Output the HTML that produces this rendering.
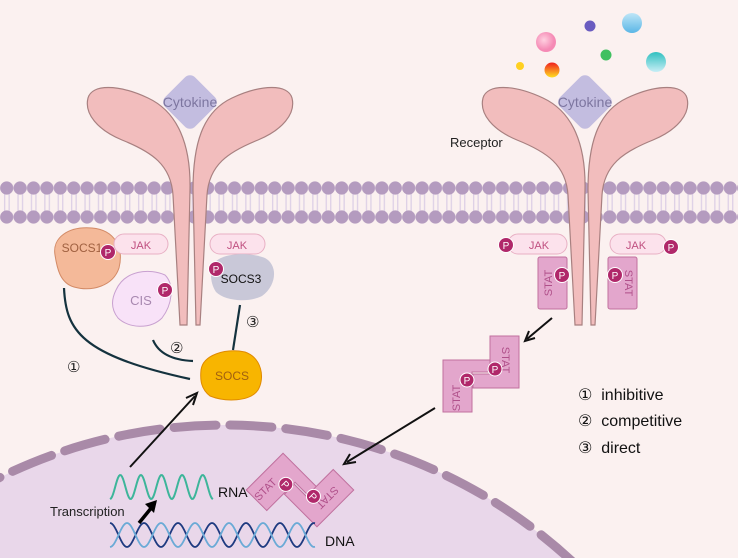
<!DOCTYPE html>
<html><head><meta charset="utf-8"><style>
html,body{margin:0;padding:0;background:#fbf1f0;overflow:hidden;width:738px;height:558px;}
svg{display:block;font-family:"Liberation Sans","DejaVu Sans",sans-serif;}
</style></head><body>
<svg width="738" height="558" viewBox="0 0 738 558" xmlns="http://www.w3.org/2000/svg" overflow="hidden">
<defs>
<clipPath id="frame"><rect x="0" y="0" width="738" height="558"/></clipPath>
<pattern id="mem" x="0" y="0" width="13.4" height="558" patternUnits="userSpaceOnUse">
<rect x="4" y="193" width="1.3" height="20" fill="#ddd0e6"/>
<rect x="8.5" y="193" width="1.3" height="20" fill="#ddd0e6"/>
<circle cx="6.7" cy="188" r="6.6" fill="#b49bbf"/>
<circle cx="6.7" cy="217" r="6.6" fill="#b49bbf"/>
</pattern>
<g id="dimer">
<path d="M0,24 H50 V36 H29 V76 H0 Z" fill="#e3a6cc" stroke="#c0709e" stroke-width="1"/>
<path d="M47,0 H76 V52 H30 V38 H47 Z" fill="#e3a6cc" stroke="#c0709e" stroke-width="1"/>
<text x="14" y="62" transform="rotate(-90 14 62)" font-size="11" fill="#b0508a" text-anchor="middle" dominant-baseline="middle">STAT</text>
<text x="62" y="24" transform="rotate(90 62 24)" font-size="11" fill="#b0508a" text-anchor="middle" dominant-baseline="middle">STAT</text>
<circle cx="24" cy="44" r="7" fill="#b0286a" stroke="#fff" stroke-width="1"/>
<text x="24" y="48" font-size="10" fill="#fff" text-anchor="middle">P</text>
<circle cx="52" cy="33" r="7" fill="#b0286a" stroke="#fff" stroke-width="1"/>
<text x="52" y="37" font-size="10" fill="#fff" text-anchor="middle">P</text>
</g>
<g id="P"><circle r="7.5" fill="#b0286a" stroke="#fff" stroke-width="1"/><text y="4" font-size="10" fill="#fff" text-anchor="middle">P</text></g>
<radialGradient id="g1" cx="0.4" cy="0.4"><stop offset="0" stop-color="#ffd0e0"/><stop offset="1" stop-color="#f58ab5"/></radialGradient>
<linearGradient id="g2" x1="0" y1="0" x2="0" y2="1"><stop offset="0" stop-color="#f02020"/><stop offset="1" stop-color="#ffe020"/></linearGradient>
<linearGradient id="g3" x1="0" y1="0" x2="0" y2="1"><stop offset="0" stop-color="#bfe6f7"/><stop offset="1" stop-color="#5bb6e6"/></linearGradient>
<linearGradient id="g4" x1="0" y1="0" x2="0" y2="1"><stop offset="0" stop-color="#30c0c0"/><stop offset="1" stop-color="#c8eef6"/></linearGradient>
</defs>
<g clip-path="url(#frame)">
<!-- nucleus -->
<circle cx="225" cy="935" r="510" fill="#e9d7ea"/>
<circle cx="225" cy="935" r="510" fill="none" stroke="#a98aa8" stroke-width="9" stroke-dasharray="42 14" stroke-linecap="round"/>

<!-- membrane -->
<rect x="0" y="180" width="738" height="45" fill="url(#mem)"/>

<!-- receptors -->
<g id="rec">
<path d="M180,325 L173,195 C171,165 152,152 122,140 C98,130 84,114 88,98 C92,84 118,84 148,98 C178,112 191,145 190,190 L187,325 Z" fill="#f2bdbd" stroke="#a88080" stroke-width="1.2"/>
<path d="M200,325 L207,195 C209,165 228,152 258,140 C282,130 296,114 292,98 C288,84 262,84 232,98 C202,112 193,145 193,190 L196,325 Z" fill="#f2bdbd" stroke="#a88080" stroke-width="1.2"/>
<rect x="169" y="81" width="42" height="42" rx="7" transform="rotate(45 190 102)" fill="#c3bde0"/>
<text x="190" y="107" font-size="14" fill="#7d76a0" text-anchor="middle">Cytokine</text>
</g>
<use href="#rec" transform="translate(395,0)"/>

<!-- bubbles -->
<circle cx="546" cy="42" r="10" fill="url(#g1)"/>
<circle cx="590" cy="26" r="5.5" fill="#6a5cc0"/>
<circle cx="632" cy="23" r="10" fill="url(#g3)"/>
<circle cx="606" cy="55" r="5.5" fill="#40c060"/>
<circle cx="656" cy="62" r="10" fill="url(#g4)"/>
<circle cx="520" cy="66" r="4" fill="#ffd020"/>
<circle cx="552" cy="70" r="7.5" fill="url(#g2)"/>
<text x="450" y="147" font-size="13" fill="#222">Receptor</text>

<!-- left side proteins -->
<path d="M55,255 C52,238 68,226 92,228 C115,230 124,248 119,268 C113,286 92,292 74,287 C60,283 57,268 55,255 Z" fill="#f4b999" stroke="#d38a66" stroke-width="1"/>
<text x="82" y="252" font-size="12" fill="#a06040" text-anchor="middle">SOCS1</text>
<use href="#P" x="108" y="252"/>
<rect x="114" y="234" width="54" height="20" rx="10" fill="#fce2ec" stroke="#e8b0c4"/>
<text x="141" y="249" font-size="11" fill="#c05080" text-anchor="middle">JAK</text>
<rect x="210" y="234" width="55" height="20" rx="10" fill="#fce2ec" stroke="#e8b0c4"/>
<text x="237" y="249" font-size="11" fill="#c05080" text-anchor="middle">JAK</text>
<path d="M116,290 C125,270 150,268 165,275 C175,285 172,305 162,318 C150,330 128,328 118,318 C110,308 112,298 116,290 Z" fill="#f8e2f8" stroke="#c8a0d0" stroke-width="1"/>
<text x="141" y="305" font-size="13" fill="#a888b0" text-anchor="middle">CIS</text>
<use href="#P" x="165" y="290"/>
<path d="M213,265 C220,252 250,252 265,258 C278,265 277,285 262,296 C248,303 225,301 216,292 C210,283 210,272 213,265 Z" fill="#c9c8d8"/>
<text x="241" y="283" font-size="12" fill="#111" text-anchor="middle">SOCS3</text>
<use href="#P" x="216" y="269"/>
<path d="M201,370 C203,355 225,348 245,352 C262,358 265,378 258,390 C250,402 225,402 210,396 C201,389 200,380 201,370 Z" fill="#f8b500" stroke="#e08a00" stroke-width="1"/>
<text x="232" y="380" font-size="12" fill="#a06010" text-anchor="middle">SOCS</text>

<g fill="none" stroke="#14323e" stroke-width="2.2">
<path d="M64,288 C66,330 80,355 190,379"/>
<path d="M153,340 C158,352 170,360 193,361"/>
<path d="M240,305 L233,350"/>
</g>
<g font-size="15" fill="#222">
<text x="67" y="372">①</text><text x="170" y="353">②</text><text x="246" y="327">③</text>
</g>

<!-- arrows -->
<g stroke="#111" stroke-width="2" fill="none">
<path d="M130,467 L195,396"/><path d="M186,398 L197,393 L193,405"/>
<path d="M552,318 L527,339"/><path d="M529,331 L525,341 L535,338"/>
<path d="M435,408 L347,462"/><path d="M350,454 L344,464 L356,462"/>
</g>

<!-- right side -->
<rect x="508" y="234" width="59" height="20" rx="10" fill="#fce2ec" stroke="#e8b0c4"/>
<text x="539" y="249" font-size="11" fill="#c05080" text-anchor="middle">JAK</text>
<rect x="610" y="234" width="56" height="20" rx="10" fill="#fce2ec" stroke="#e8b0c4"/>
<text x="636" y="249" font-size="11" fill="#c05080" text-anchor="middle">JAK</text>
<use href="#P" x="506" y="245"/><use href="#P" x="671" y="247"/>
<rect x="538" y="257" width="29" height="52" rx="2" fill="#e3a6cc" stroke="#c0709e"/>
<text x="549" y="283" transform="rotate(-90 549 283)" font-size="11" fill="#b0508a" text-anchor="middle" dominant-baseline="middle">STAT</text>
<use href="#P" x="562" y="275"/>
<rect x="608" y="257" width="29" height="52" rx="2" fill="#e3a6cc" stroke="#c0709e"/>
<text x="628" y="283" transform="rotate(90 628 283)" font-size="11" fill="#b0508a" text-anchor="middle" dominant-baseline="middle">STAT</text>
<use href="#P" x="615" y="275"/>

<use href="#dimer" x="443" y="336"/>
<g transform="translate(300,490) rotate(45) translate(-38,-38)"><use href="#dimer"/></g>

<!-- RNA / DNA -->
<path id="rna" d="" fill="none" stroke="#3db59a" stroke-width="2"/>
<path id="dna1" d="" fill="none" stroke="#1e3a80" stroke-width="1.8"/>
<path id="dna2" d="" fill="none" stroke="#6aaad6" stroke-width="1.8"/>
<text x="218" y="497" font-size="14" fill="#111">RNA</text>
<text x="325" y="546" font-size="14" fill="#111">DNA</text>
<text x="50" y="516" font-size="13" fill="#222">Transcription</text>
<path d="M139,523 L152,507" stroke="#000" stroke-width="3.5"/>
<path d="M145,504 L157,500 L154,513 Z" fill="#000"/>

<!-- legend -->
<g font-size="16" fill="#111">
<text x="578" y="400">①&#160; inhibitive</text>
<text x="578" y="426">②&#160; competitive</text>
<text x="578" y="453">③&#160; direct</text>
</g>
</g>
<script>
function w(x0,x1,yc,a,p,ph){var d='';for(var x=x0;x<=x1;x+=1){var y=yc-a*Math.cos((x-x0)/p*2*Math.PI+ph);d+=(x==x0?'M':'L')+x+','+y.toFixed(2);}return d;}
document.getElementById('rna').setAttribute('d',w(110,213,487,12,20.6,Math.PI));
document.getElementById('dna1').setAttribute('d',w(110,315,535,12,34,0));
document.getElementById('dna2').setAttribute('d',w(110,315,535,12,34,Math.PI));
</script>
</svg>
</body></html>
